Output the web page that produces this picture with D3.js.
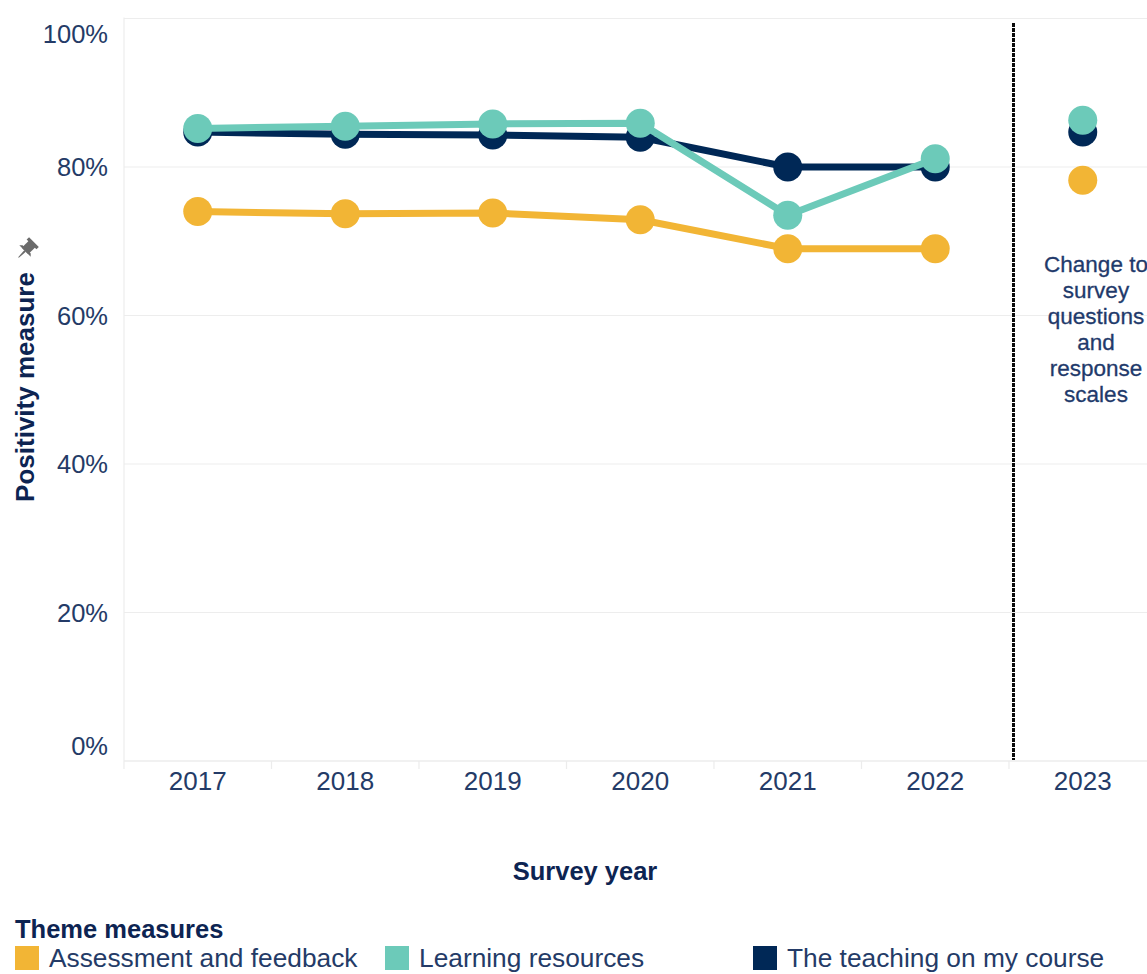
<!DOCTYPE html>
<html>
<head>
<meta charset="utf-8">
<script src="https://cdn.jsdelivr.net/npm/d3@7/dist/d3.min.js"></script>
<style>
  html, body { margin: 0; padding: 0; background: #ffffff; overflow: hidden; }
  svg { display: block; font-family: "Liberation Sans", Arial, sans-serif; }
</style>
</head>
<body>
<svg id="chart" width="1147" height="974"></svg>
<script>
// Survey years and theme positivity measures (%)
const years = ["2017", "2018", "2019", "2020", "2021", "2022", "2023"];
const assessmentFeedback = [74.0, 73.7, 73.8, 72.9, 69.0, 69.0, 78.2];
const learningResources = [85.2, 85.5, 85.8, 85.9, 73.5, 81.1, 86.3];
const teachingOnCourse = [84.7, 84.4, 84.3, 84.0, 80.0, 80.0, 84.7];
const yTicks = [0, 20, 40, 60, 80, 100];
const seriesNames = ["Assessment and feedback", "Learning resources", "The teaching on my course"];
const seriesColors = ["#F2B535", "#6CCAB9", "#002856"];
const breakYear = "2023"; // first year on the new question set
const noteLines = ["Change to", "survey", "questions", "and", "response", "scales"];

const series = [
  { name: seriesNames[0], color: seriesColors[0], values: assessmentFeedback },
  { name: seriesNames[1], color: seriesColors[1], values: learningResources },
  { name: seriesNames[2], color: seriesColors[2], values: teachingOnCourse }
];

const svg = d3.select("#chart");
const plot = { left: 124, top: 18.5, bottom: 761, right: 1147 };

const x = d3.scaleBand().domain(years).range([plot.left, plot.left + 147.5 * years.length]).padding(0);
const y = d3.scaleLinear().domain([0, 100]).range([plot.bottom, plot.top]);
const cx = d => x(d) + x.bandwidth() / 2;

const tickColor = "#243b67";
const titleColor = "#0d2452";

// Gridlines
svg.append("g").selectAll("line").data(yTicks).join("line")
  .attr("x1", plot.left).attr("x2", plot.right)
  .attr("y1", d => y(d)).attr("y2", d => y(d))
  .attr("stroke", d => d === 0 ? "#e4e4e4" : "#ededed").attr("stroke-width", 1.2);

// Left border of the plot area
svg.append("line")
  .attr("x1", plot.left).attr("x2", plot.left)
  .attr("y1", y(100) - 1).attr("y2", plot.bottom)
  .attr("stroke", "#ededed").attr("stroke-width", 1.2);

// Y axis labels (end labels kept inside the plot height)
svg.append("g").selectAll("text").data(yTicks).join("text")
  .attr("x", 108)
  .attr("y", d => Math.min(Math.max(y(d), plot.top + 15), plot.bottom - 15))
  .attr("dy", "0.36em")
  .attr("text-anchor", "end")
  .attr("font-size", 25.5)
  .attr("fill", tickColor)
  .text(d => d + "%");

// X axis: band separators and year labels
const xAxis = d3.axisBottom(x).tickSize(0).tickPadding(0);
const xg = svg.append("g").attr("transform", `translate(0,${plot.bottom})`).call(xAxis);
xg.select(".domain").remove();
xg.selectAll("text")
  .attr("y", 29).attr("dy", 0)
  .attr("font-size", 26)
  .attr("font-family", "\"Liberation Sans\", Arial, sans-serif")
  .attr("fill", tickColor);

svg.append("g").selectAll("line").data(years).join("line")
  .attr("x1", d => x(d)).attr("x2", d => x(d))
  .attr("y1", plot.bottom).attr("y2", plot.bottom + 8)
  .attr("stroke", "#ececec").attr("stroke-width", 1.2);

// Break line before the new survey year
const breakX = x(breakYear) + 4.5;
svg.append("line")
  .attr("x1", breakX).attr("x2", breakX)
  .attr("y1", 23).attr("y2", plot.bottom - 1)
  .attr("stroke", "#0a0a0a").attr("stroke-width", 3)
  .attr("stroke-dasharray", "4,1");

// Lines (only for years before the break) and markers
const breakIndex = years.indexOf(breakYear);
const line = d3.line().x(d => cx(d.year)).y(d => y(d.value));

const order = [0, 2, 1];
order.forEach(i => {
  const s = series[i];
  const pts = years.map((yr, j) => ({ year: yr, value: s.values[j] }));
  const g = svg.append("g");
  g.append("path")
    .datum(pts.slice(0, breakIndex))
    .attr("d", line)
    .attr("fill", "none")
    .attr("stroke", s.color)
    .attr("stroke-width", 7)
    .attr("stroke-linejoin", "round");
  g.selectAll("circle").data(pts).join("circle")
    .attr("cx", d => cx(d.year))
    .attr("cy", d => y(d.value))
    .attr("r", 14.5)
    .attr("fill", s.color);
});

// Note on the survey change
svg.append("text")
  .attr("x", 1096).attr("y", 272)
  .attr("text-anchor", "middle")
  .attr("font-size", 22.5)
  .attr("fill", "#1f3a6b")
  .attr("stroke", "#1f3a6b").attr("stroke-width", 0.3)
  .selectAll("tspan").data(noteLines).join("tspan")
  .attr("x", 1096)
  .attr("dy", (d, i) => i === 0 ? 0 : 26)
  .text(d => d);

// Axis titles
svg.append("text")
  .attr("x", 585).attr("y", 880)
  .attr("text-anchor", "middle")
  .attr("font-size", 25.5).attr("font-weight", "bold")
  .attr("fill", titleColor)
  .text("Survey year");

svg.append("text")
  .attr("transform", "translate(34,387) rotate(-90)")
  .attr("text-anchor", "middle")
  .attr("font-size", 26).attr("font-weight", "bold")
  .attr("fill", titleColor)
  .text("Positivity measure");

// Pin icon above the rotated title
const pin = svg.append("g").attr("transform", "translate(25,251) rotate(45) scale(1.15)").attr("fill", "#6b6b6b");
pin.append("rect").attr("x", -4).attr("y", -9).attr("width", 8).attr("height", 9);
pin.append("rect").attr("x", -6).attr("y", -11).attr("width", 12).attr("height", 3);
pin.append("path").attr("d", "M-7,0 L7,0 L5,-2 L-5,-2 Z");
pin.append("path").attr("d", "M-1,0 L1,0 L0.4,8 L-0.4,8 Z");

// Legend
svg.append("text")
  .attr("x", 15).attr("y", 938)
  .attr("font-size", 25.5).attr("font-weight", "bold")
  .attr("fill", titleColor)
  .text("Theme measures");

const legendX = [15, 385, 753];
const lg = svg.append("g").selectAll("g").data(series).join("g")
  .attr("transform", (d, i) => `translate(${legendX[i]},946)`);
lg.append("rect").attr("width", 24).attr("height", 24).attr("fill", d => d.color);
lg.append("text")
  .attr("x", 34).attr("y", 20.5)
  .attr("font-size", 26.3)
  .attr("fill", tickColor)
  .text(d => d.name);
</script>
</body>
</html>
